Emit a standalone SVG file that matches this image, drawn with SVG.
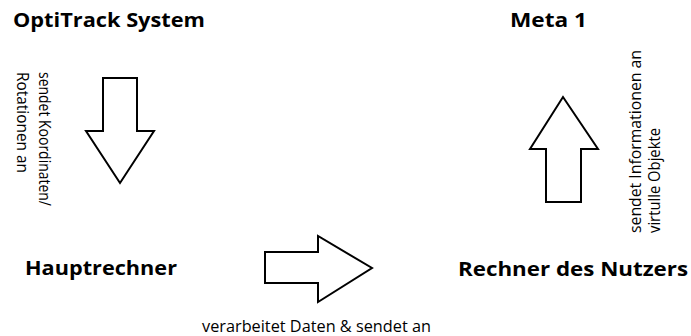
<svg xmlns="http://www.w3.org/2000/svg" width="691" height="336" viewBox="0 0 691 336">
<style>
.title{font-family:"Open Sans","Liberation Sans",sans-serif;font-weight:bold;font-size:19px;fill:#000}
.lbl{font-family:"Open Sans","Liberation Sans",sans-serif;font-size:15.5px;fill:#000}
.arrow{fill:#fff;stroke:#000;stroke-width:2;stroke-linejoin:miter}
</style>
<rect width="691" height="336" fill="#fff"/>
<g id="optitrack"><text class="title" x="13" y="27" textLength="192" lengthAdjust="spacingAndGlyphs">OptiTrack System</text></g>
<g id="meta1"><text class="title" x="510" y="27" textLength="77" lengthAdjust="spacingAndGlyphs">Meta 1</text></g>
<g id="hauptrechner"><text class="title" x="25" y="275" textLength="152" lengthAdjust="spacingAndGlyphs">Hauptrechner</text></g>
<g id="rechner-nutzer"><text class="title" x="458" y="276" textLength="230" lengthAdjust="spacingAndGlyphs">Rechner des Nutzers</text></g>
<g id="connectors">
<g id="c1">
<polygon class="arrow" points="103,78 137,78 137,131 154,131 120,183 86,131 103,131"/>
<text class="lbl" transform="translate(39,72) rotate(90)" textLength="134" lengthAdjust="spacingAndGlyphs">sendet Koordinaten/</text>
<text class="lbl" transform="translate(17,72) rotate(90)" textLength="101" lengthAdjust="spacingAndGlyphs">Rotationen an</text>
</g>
<g id="c2">
<polygon class="arrow" points="265,252 318,252 318,236 372,268 318,302 318,283 265,283"/>
<text class="lbl" x="202" y="332" textLength="229" lengthAdjust="spacingAndGlyphs">verarbeitet Daten &amp; sendet an</text>
</g>
<g id="c3">
<polygon class="arrow" points="546,202 546,149 530,149 563,97 598,149 581,149 581,202"/>
<text class="lbl" transform="translate(641,233) rotate(-90)" textLength="183" lengthAdjust="spacingAndGlyphs">sendet Informationen an</text>
<text class="lbl" transform="translate(660,233) rotate(-90)" textLength="105" lengthAdjust="spacingAndGlyphs">virtulle Objekte</text>
</g>
</g>
</svg>
